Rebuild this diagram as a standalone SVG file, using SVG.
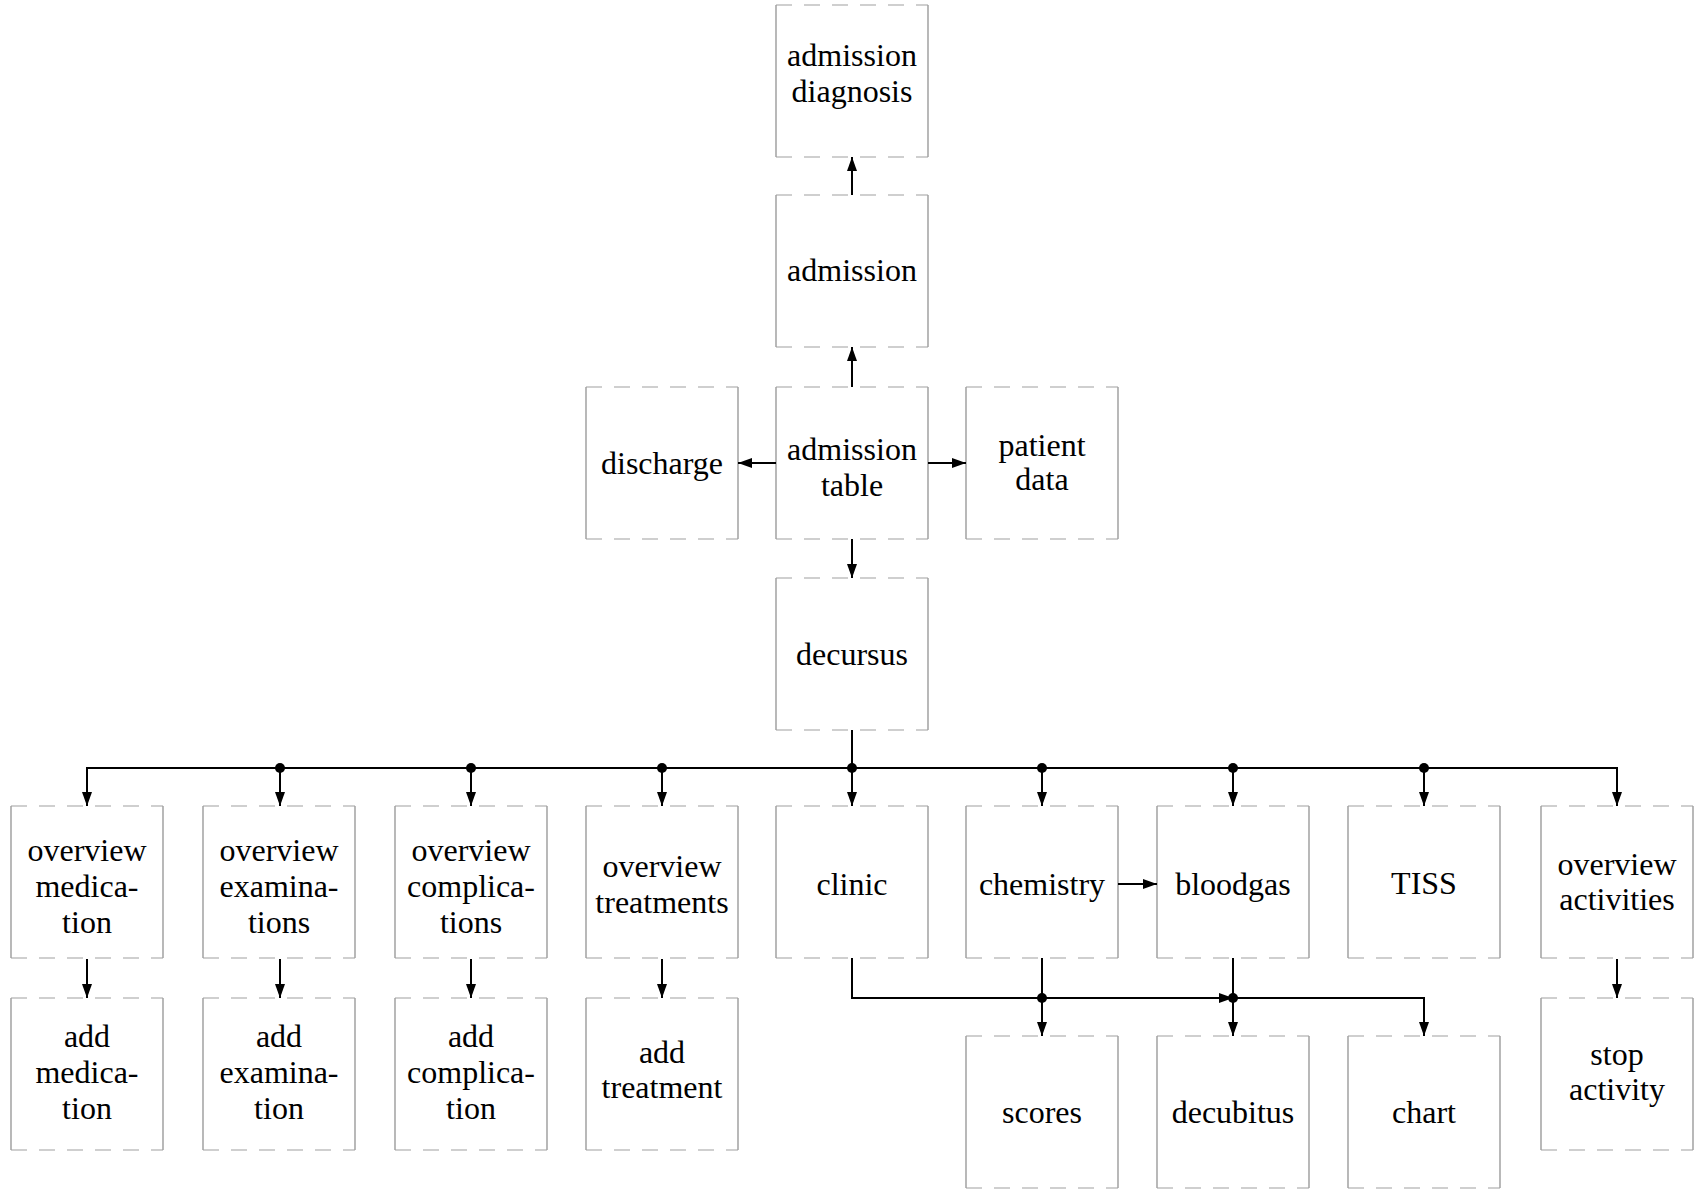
<svg xmlns="http://www.w3.org/2000/svg" width="1701" height="1190" viewBox="0 0 1701 1190">
  <style>
    .box .side { stroke: #8a8a8a; stroke-width: 1.2; fill: none; }
    .box .edge { stroke: #a0a0a0; stroke-width: 1.2; fill: none; stroke-dasharray: 16 12; }
    .box rect { fill: #ffffff; stroke: none; }
    .box text { font-family: "Liberation Serif", "Times New Roman", serif; font-size: 32px; fill: #000; text-anchor: middle; }
    .conn path { stroke: #000; stroke-width: 2; fill: none; }
    .conn circle { fill: #000; }
  </style>
  <defs>
    <marker id="ah" viewBox="0 0 14 10" refX="14" refY="5" markerWidth="14" markerHeight="10" markerUnits="userSpaceOnUse" orient="auto">
      <path d="M0,0 L14,5 L0,10 z" fill="#000"/>
    </marker>
  </defs>
  <rect width="1701" height="1190" fill="#ffffff"/>

  <!-- nodes: 152 x 152 boxes, light border with broken top and bottom edges -->
  <g id="admission-diagnosis" class="box" transform="translate(776,5)">
    <rect width="152" height="152"/>
    <path class="side" d="M0,0 V152 M152,0 V152"/>
    <path class="edge" d="M0,0 H152 M0,152 H152"/>
    <text x="76" y="61">admission</text>
    <text x="76" y="97">diagnosis</text>
  </g>
  <g id="admission" class="box" transform="translate(776,195)">
    <rect width="152" height="152"/>
    <path class="side" d="M0,0 V152 M152,0 V152"/>
    <path class="edge" d="M0,0 H152 M0,152 H152"/>
    <text x="76" y="86">admission</text>
  </g>
  <g id="discharge" class="box" transform="translate(586,387)">
    <rect width="152" height="152"/>
    <path class="side" d="M0,0 V152 M152,0 V152"/>
    <path class="edge" d="M0,0 H152 M0,152 H152"/>
    <text x="76" y="87">discharge</text>
  </g>
  <g id="admission-table" class="box" transform="translate(776,387)">
    <rect width="152" height="152"/>
    <path class="side" d="M0,0 V152 M152,0 V152"/>
    <path class="edge" d="M0,0 H152 M0,152 H152"/>
    <text x="76" y="73">admission</text>
    <text x="76" y="109">table</text>
  </g>
  <g id="patient-data" class="box" transform="translate(966,387)">
    <rect width="152" height="152"/>
    <path class="side" d="M0,0 V152 M152,0 V152"/>
    <path class="edge" d="M0,0 H152 M0,152 H152"/>
    <text x="76" y="69">patient</text>
    <text x="76" y="103">data</text>
  </g>
  <g id="decursus" class="box" transform="translate(776,578)">
    <rect width="152" height="152"/>
    <path class="side" d="M0,0 V152 M152,0 V152"/>
    <path class="edge" d="M0,0 H152 M0,152 H152"/>
    <text x="76" y="87">decursus</text>
  </g>

  <!-- row of overviews -->
  <g id="overview-medication" class="box" transform="translate(11,806)">
    <rect width="152" height="152"/>
    <path class="side" d="M0,0 V152 M152,0 V152"/>
    <path class="edge" d="M0,0 H152 M0,152 H152"/>
    <text x="76" y="55">overview</text>
    <text x="76" y="91">medica-</text>
    <text x="76" y="127">tion</text>
  </g>
  <g id="overview-examinations" class="box" transform="translate(203,806)">
    <rect width="152" height="152"/>
    <path class="side" d="M0,0 V152 M152,0 V152"/>
    <path class="edge" d="M0,0 H152 M0,152 H152"/>
    <text x="76" y="55">overview</text>
    <text x="76" y="91">examina-</text>
    <text x="76" y="127">tions</text>
  </g>
  <g id="overview-complications" class="box" transform="translate(395,806)">
    <rect width="152" height="152"/>
    <path class="side" d="M0,0 V152 M152,0 V152"/>
    <path class="edge" d="M0,0 H152 M0,152 H152"/>
    <text x="76" y="55">overview</text>
    <text x="76" y="91">complica-</text>
    <text x="76" y="127">tions</text>
  </g>
  <g id="overview-treatments" class="box" transform="translate(586,806)">
    <rect width="152" height="152"/>
    <path class="side" d="M0,0 V152 M152,0 V152"/>
    <path class="edge" d="M0,0 H152 M0,152 H152"/>
    <text x="76" y="71">overview</text>
    <text x="76" y="107">treatments</text>
  </g>
  <g id="clinic" class="box" transform="translate(776,806)">
    <rect width="152" height="152"/>
    <path class="side" d="M0,0 V152 M152,0 V152"/>
    <path class="edge" d="M0,0 H152 M0,152 H152"/>
    <text x="76" y="89">clinic</text>
  </g>
  <g id="chemistry" class="box" transform="translate(966,806)">
    <rect width="152" height="152"/>
    <path class="side" d="M0,0 V152 M152,0 V152"/>
    <path class="edge" d="M0,0 H152 M0,152 H152"/>
    <text x="76" y="89">chemistry</text>
  </g>
  <g id="bloodgas" class="box" transform="translate(1157,806)">
    <rect width="152" height="152"/>
    <path class="side" d="M0,0 V152 M152,0 V152"/>
    <path class="edge" d="M0,0 H152 M0,152 H152"/>
    <text x="76" y="89">bloodgas</text>
  </g>
  <g id="tiss" class="box" transform="translate(1348,806)">
    <rect width="152" height="152"/>
    <path class="side" d="M0,0 V152 M152,0 V152"/>
    <path class="edge" d="M0,0 H152 M0,152 H152"/>
    <text x="76" y="88">TISS</text>
  </g>
  <g id="overview-activities" class="box" transform="translate(1541,806)">
    <rect width="152" height="152"/>
    <path class="side" d="M0,0 V152 M152,0 V152"/>
    <path class="edge" d="M0,0 H152 M0,152 H152"/>
    <text x="76" y="69">overview</text>
    <text x="76" y="104">activities</text>
  </g>

  <!-- bottom row -->
  <g id="add-medication" class="box" transform="translate(11,998)">
    <rect width="152" height="152"/>
    <path class="side" d="M0,0 V152 M152,0 V152"/>
    <path class="edge" d="M0,0 H152 M0,152 H152"/>
    <text x="76" y="49">add</text>
    <text x="76" y="85">medica-</text>
    <text x="76" y="121">tion</text>
  </g>
  <g id="add-examination" class="box" transform="translate(203,998)">
    <rect width="152" height="152"/>
    <path class="side" d="M0,0 V152 M152,0 V152"/>
    <path class="edge" d="M0,0 H152 M0,152 H152"/>
    <text x="76" y="49">add</text>
    <text x="76" y="85">examina-</text>
    <text x="76" y="121">tion</text>
  </g>
  <g id="add-complication" class="box" transform="translate(395,998)">
    <rect width="152" height="152"/>
    <path class="side" d="M0,0 V152 M152,0 V152"/>
    <path class="edge" d="M0,0 H152 M0,152 H152"/>
    <text x="76" y="49">add</text>
    <text x="76" y="85">complica-</text>
    <text x="76" y="121">tion</text>
  </g>
  <g id="add-treatment" class="box" transform="translate(586,998)">
    <rect width="152" height="152"/>
    <path class="side" d="M0,0 V152 M152,0 V152"/>
    <path class="edge" d="M0,0 H152 M0,152 H152"/>
    <text x="76" y="65">add</text>
    <text x="76" y="100">treatment</text>
  </g>
  <g id="scores" class="box" transform="translate(966,1036)">
    <rect width="152" height="152"/>
    <path class="side" d="M0,0 V152 M152,0 V152"/>
    <path class="edge" d="M0,0 H152 M0,152 H152"/>
    <text x="76" y="87">scores</text>
  </g>
  <g id="decubitus" class="box" transform="translate(1157,1036)">
    <rect width="152" height="152"/>
    <path class="side" d="M0,0 V152 M152,0 V152"/>
    <path class="edge" d="M0,0 H152 M0,152 H152"/>
    <text x="76" y="87">decubitus</text>
  </g>
  <g id="chart" class="box" transform="translate(1348,1036)">
    <rect width="152" height="152"/>
    <path class="side" d="M0,0 V152 M152,0 V152"/>
    <path class="edge" d="M0,0 H152 M0,152 H152"/>
    <text x="76" y="87">chart</text>
  </g>
  <g id="stop-activity" class="box" transform="translate(1541,998)">
    <rect width="152" height="152"/>
    <path class="side" d="M0,0 V152 M152,0 V152"/>
    <path class="edge" d="M0,0 H152 M0,152 H152"/>
    <text x="76" y="67">stop</text>
    <text x="76" y="102">activity</text>
  </g>

  <!-- connectors -->
  <g id="connectors" class="conn">
    <path d="M852,195 V157" marker-end="url(#ah)"/>
    <path d="M852,387 V347" marker-end="url(#ah)"/>
    <path d="M776,463 H738" marker-end="url(#ah)"/>
    <path d="M928,463 H966" marker-end="url(#ah)"/>
    <path d="M852,539 V578" marker-end="url(#ah)"/>

    <!-- decursus fan-out bus -->
    <path d="M852,730 V768"/>
    <path d="M87,806 V768 H1617 V806" marker-end="url(#ah)"/>
    <path d="M87,775 V806" marker-end="url(#ah)"/>
    <path d="M280,768 V806" marker-end="url(#ah)"/>
    <path d="M471,768 V806" marker-end="url(#ah)"/>
    <path d="M662,768 V806" marker-end="url(#ah)"/>
    <path d="M852,768 V806" marker-end="url(#ah)"/>
    <path d="M1042,768 V806" marker-end="url(#ah)"/>
    <path d="M1233,768 V806" marker-end="url(#ah)"/>
    <path d="M1424,768 V806" marker-end="url(#ah)"/>
    <circle cx="280" cy="768" r="5"/>
    <circle cx="471" cy="768" r="5"/>
    <circle cx="662" cy="768" r="5"/>
    <circle cx="852" cy="768" r="5"/>
    <circle cx="1042" cy="768" r="5"/>
    <circle cx="1233" cy="768" r="5"/>
    <circle cx="1424" cy="768" r="5"/>

    <!-- overview to add/stop -->
    <path d="M87,959 V998" marker-end="url(#ah)"/>
    <path d="M280,959 V998" marker-end="url(#ah)"/>
    <path d="M471,959 V998" marker-end="url(#ah)"/>
    <path d="M662,959 V998" marker-end="url(#ah)"/>
    <path d="M1617,959 V998" marker-end="url(#ah)"/>

    <!-- chemistry to bloodgas -->
    <path d="M1118,884 H1157" marker-end="url(#ah)"/>

    <!-- lower bus from clinic, chemistry, bloodgas -->
    <path d="M852,958 V998 H1233" marker-end="url(#ah)"/>
    <path d="M1233,998 H1424 V1036" marker-end="url(#ah)"/>
    <path d="M1042,958 V1036" marker-end="url(#ah)"/>
    <path d="M1233,958 V1036" marker-end="url(#ah)"/>
    <circle cx="1042" cy="998" r="5"/>
    <circle cx="1233" cy="998" r="5"/>
  </g>
</svg>
